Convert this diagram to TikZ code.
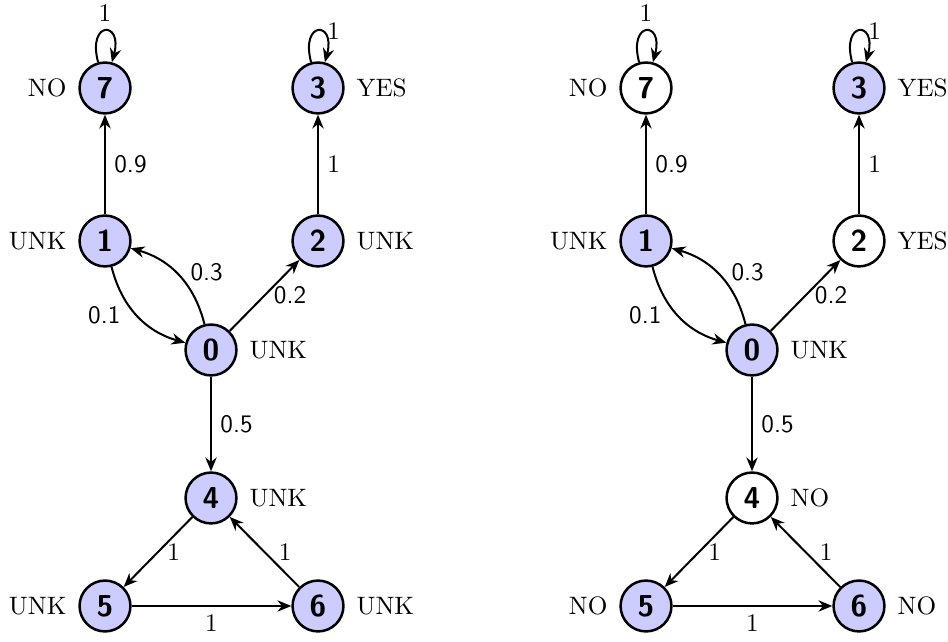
\documentclass[tikz,border=0pt]{standalone}
\usetikzlibrary{arrows.meta}
\begin{document}
\begin{tikzpicture}[x=0.397pt,y=0.397pt,
  st/.style={circle,draw,line width=1pt,minimum size=20.2pt,inner sep=0pt,font=\large\sffamily\bfseries},
  on/.style={st,fill=blue!20},
  off/.style={st,fill=white},
  lab/.style={label distance=1.2pt},
  edge/.style={thick,-{Stealth[length=5.5pt,width=4.5pt,inset=1.8pt]}},
  el/.style={font=\sffamily},
  every label/.style={font=\normalfont}]
\useasboundingbox (0,0) rectangle (948,642);
% left graph
\node[on,label={[lab]left:NO}]   (L7) at (105,554) {7};
\node[on,label={[lab]right:YES}] (L3) at (318,554) {3};
\node[on,label={[lab]left:UNK}]  (L1) at (105,401) {1};
\node[on,label={[lab]right:UNK}] (L2) at (318,401) {2};
\node[on,label={[lab]right:UNK}] (L0) at (211,292) {0};
\node[on,label={[lab]right:UNK}] (L4) at (211,144) {4};
\node[on,label={[lab]left:UNK}]  (L5) at (105,36) {5};
\node[on,label={[lab]right:UNK}] (L6) at (318,36) {6};
% right graph
\node[off,label={[lab]left:NO}]  (R7) at (646,554) {7};
\node[on,label={[lab]right:YES}] (R3) at (859,554) {3};
\node[on,label={[lab]left:UNK}]  (R1) at (646,401) {1};
\node[off,label={[lab]right:YES}] (R2) at (859,401) {2};
\node[on,label={[lab]right:UNK}] (R0) at (752,292) {0};
\node[off,label={[lab]right:NO}] (R4) at (752,144) {4};
\node[on,label={[lab]left:NO}]   (R5) at (646,36) {5};
\node[on,label={[lab]right:NO}]  (R6) at (859,36) {6};
% edges
\foreach \g in {L,R}{
  \draw[edge] (\g7) to[loop above] node[above] {$1$} (\g7);
  \draw[edge] (\g3) to[loop above] node[right] {$1$} (\g3);
  \draw[edge] (\g1) -- node[el,right] {0.9} (\g7);
  \draw[edge] (\g2) -- node[right] {$1$} (\g3);
  \draw[edge] (\g0) to[bend right=30] node[el,above right,xshift=1pt,yshift=-6pt] {0.3} (\g1);
  \draw[edge] (\g1) to[bend right=30] node[el,left,xshift=-3pt] {0.1} (\g0);
  \draw[edge] (\g0) -- node[el,right] {0.2} (\g2);
  \draw[edge] (\g0) -- node[el,right] {0.5} (\g4);
  \draw[edge] (\g4) -- node[right] {$1$} (\g5);
  \draw[edge] (\g6) -- node[right,xshift=2pt] {$1$} (\g4);
  \draw[edge] (\g5) -- node[below] {$1$} (\g6);
}
\end{tikzpicture}
\end{document}
